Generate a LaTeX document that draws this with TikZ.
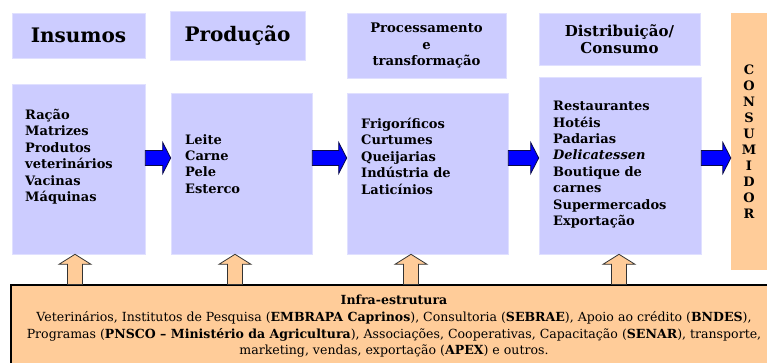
\documentclass[tikz,border=0pt]{standalone}
\usepackage{fontspec}
\setmainfont{DejaVu Serif}
\usetikzlibrary{calc}
\definecolor{lilas}{RGB}{204,204,255}
\definecolor{pessego}{RGB}{255,204,153}
\definecolor{azul}{RGB}{0,0,255}
\definecolor{marinho}{RGB}{10,10,70}
\tikzset{
  caixa/.style={fill=lilas, draw=lilas!60!white, line width=0.6pt, inner sep=0pt},
  lista/.style={anchor=north west, inner sep=0pt, align=left,
    font=\bfseries\fontsize{13}{16.4}\selectfont},
  setaazul/.style={fill=azul, draw=marinho, line width=0.8pt,
    to path={let \p1=(\tikztostart), \p2=(\tikztotarget) in
      (\x1,\y1+7.5pt) -- (\x2-8pt,\y1+7.5pt) -- (\x2-8pt,\y1+15.5pt) -- (\x2,\y2)
      -- (\x2-8pt,\y1-15.5pt) -- (\x2-8pt,\y1-7.5pt) -- (\x1,\y1-7.5pt) -- cycle}},
  setacima/.style={fill=pessego, draw=black!80, line width=0.8pt,
    to path={let \p1=(\tikztostart), \p2=(\tikztotarget) in
      (\x1-7.5pt,\y1) -- (\x1-7.5pt,\y2-10pt) -- (\x1-16pt,\y2-10pt) -- (\x2,\y2)
      -- (\x1+16pt,\y2-10pt) -- (\x1+7.5pt,\y2-10pt) -- (\x1+7.5pt,\y1) -- cycle}}
}
\begin{document}
\begin{tikzpicture}[x=1pt,y=-1pt]
  \useasboundingbox (0,0) rectangle (767,363);
  % cabecalhos
  \draw
    (78.5,35.5) node[caixa, minimum width=133pt, minimum height=45pt,
      font=\bfseries\fontsize{20}{22}\selectfont] (h1) {Insumos}
    (237.5,36) node[caixa, minimum width=135pt, minimum height=49pt,
      font=\bfseries\fontsize{20}{22}\selectfont] (h2) {Produção}
    (426.5,45.5) node[caixa, minimum width=159pt, minimum height=65pt, align=center,
      font=\bfseries\fontsize{13.2}{16.5}\selectfont] (h3) {Processamento\\e\\transformação}
    (619.5,39) node[caixa, minimum width=161pt, minimum height=52pt, align=center,
      font=\bfseries\fontsize{15}{17}\selectfont] (h4) {Distribuição/\\Consumo};
  % caixas
  \draw
    (78.5,169) node[caixa, minimum width=133pt, minimum height=170pt] (b1) {}
    (241.5,173.5) node[caixa, minimum width=141pt, minimum height=161pt] (b2) {}
    (427.5,173.5) node[caixa, minimum width=161pt, minimum height=161pt] (b3) {}
    (620,165.5) node[caixa, minimum width=162pt, minimum height=177pt] (b4) {}
    (749,141.5) node[fill=pessego, minimum width=36pt, minimum height=257pt, inner sep=0pt,
      align=center, font=\bfseries\fontsize{13}{16}\selectfont] (cons)
      {C\\O\\N\\S\\U\\M\\I\\D\\O\\R};
  \node[lista] (l1) at (25,109) {Ração\\Matrizes\\Produtos\\veterinários\\Vacinas\\Máquinas};
  \node[lista] (l2) at (185,134) {Leite\\Carne\\Pele\\Esterco};
  \node[lista] (l3) at (361,118) {Frigoríficos\\Curtumes\\Queijarias\\Indústria de\\Laticínios};
  \node[lista] (l4) at (553,101) {Restaurantes\\Hotéis\\Padarias\\\textit{Delicatessen}\\Boutique de\\carnes\\Supermercados\\Exportação};
  \coordinate (m) at (0,158);
  % setas
  \draw[setaazul] (b1.east |- m) to (b2.west |- m);
  \draw[setaazul] (b2.east |- m) to (b3.west |- m);
  \draw[setaazul] (b3.east |- m) to (b4.west |- m);
  \draw[setaazul] (b4.east |- m) to (cons.west |- m);
  % infra-estrutura
  \node[fill=pessego, draw=black, line width=1.2pt, minimum width=779pt, minimum height=95pt,
    inner sep=0pt] (infra) at (400.5,332.5) {};
  \draw[setacima] (infra.north -| 75,0) to (b1.south -| 75,0);
  \draw[setacima] (infra.north -| 235,0) to (b2.south -| 235,0);
  \draw[setacima] (infra.north -| 411,0) to (b3.south -| 411,0);
  \draw[setacima] (infra.north -| 619,0) to (b4.south -| 619,0);
  \node[anchor=north, inner sep=0pt, align=center, font=\fontsize{12.55}{16.7}\selectfont] (t5)
    at (394,295) {\textbf{Infra-estrutura}\\
    Veterinários, Institutos de Pesquisa (\textbf{EMBRAPA Caprinos}), Consultoria (\textbf{SEBRAE}), Apoio ao crédito (\textbf{BNDES}),\\
    Programas (\textbf{PNSCO – Ministério da Agricultura}), Associações, Cooperativas, Capacitação (\textbf{SENAR}), transporte,\\
    marketing, vendas, exportação (\textbf{APEX}) e outros.};
\end{tikzpicture}
\end{document}
